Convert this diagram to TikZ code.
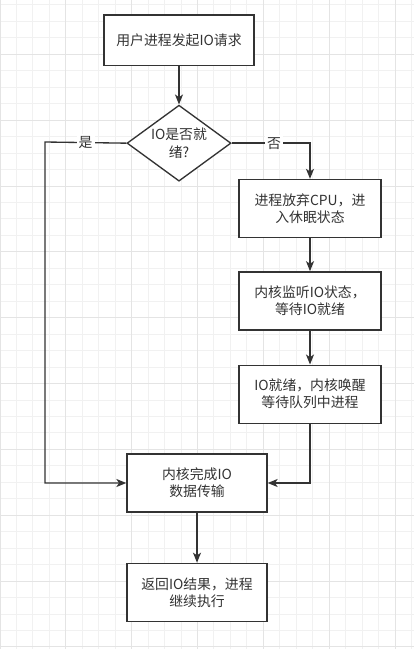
\documentclass[tikz,border=0pt]{standalone}
\usepackage{fontspec}
\newfontfamily\cjk{Noto Sans CJK SC}
\usepackage{tikz}
\usetikzlibrary{shapes.geometric,arrows.meta,positioning,calc}
\definecolor{linegray}{RGB}{51,51,51}
\definecolor{gridminor}{RGB}{241,241,241}
\definecolor{gridmajor}{RGB}{228,228,228}

\begin{document}
\begin{tikzpicture}[
    x=0.75pt, y=-0.75pt,
    font=\cjk\fontsize{10.4}{12.8}\selectfont,
    process/.style={rectangle, draw=linegray, fill=white, line width=1pt, minimum width=106.5pt, minimum height=43.5pt, align=center, inner sep=2pt, text=linegray},
    decision/.style={diamond, draw=linegray, fill=white, line width=1pt, minimum width=78pt, minimum height=57pt, aspect=1.37, align=center, inner sep=0pt, text=linegray},
    arrow/.style={-{Stealth[length=7.5pt,width=6pt,inset=2pt]}, line width=1pt, linegray},
    edgelabel/.style={fill=white, inner sep=1.5pt, text=linegray}
]
    % Background grid
    \useasboundingbox (0,0) rectangle (414,649);
    \fill[white] (0,0) rectangle (414,649);
    \foreach \k in {0,...,25}
        \draw[gridminor, line width=0.75pt] ({16.46*\k},0) -- ({16.46*\k},649);
    \foreach \k in {0,...,39}
        \draw[gridminor, line width=0.75pt] (0,{5+16.46*\k}) -- (414,{5+16.46*\k});
    \foreach \k in {0,4,...,24}
        \draw[gridmajor, line width=0.75pt] ({16.46*\k},0) -- ({16.46*\k},649);
    \foreach \k in {3,7,...,39}
        \draw[gridmajor, line width=0.75pt] (0,{5+16.46*\k}) -- (414,{5+16.46*\k});

    % Nodes
    \node[process, minimum width=112.5pt, minimum height=38pt] (request) at (179,40.5) {用户进程发起IO请求};
    \node[decision, below=28.5pt of request] (ready) {IO是否就\\绪?};
    \node[process] (sleep) at (310,208.5) {进程放弃CPU，进\\入休眠状态};
    \node[process, below=24.75pt of sleep] (monitor) {内核监听IO状态，\\等待IO就绪};
    \node[process, below=25.5pt of monitor] (wakeup) {IO就绪，内核唤醒\\等待队列中进程};
    \node[process, minimum width=105pt] (transfer) at (197,483) {内核完成IO\\数据传输};
    \node[process, minimum width=105pt, below=37.5pt of transfer] (result) {返回IO结果，进程\\继续执行};
    \coordinate (yesturn) at (45,142);

    % Arrows
    \draw[arrow] (request) -- (ready);
    \draw[arrow] (ready.west) -- node[edgelabel] {是} (yesturn) |- (transfer.west);
    \draw[arrow] (ready.east) -| node[edgelabel, pos=0.27] {否} (sleep.north);
    \draw[arrow] (sleep) -- (monitor);
    \draw[arrow] (monitor) -- (wakeup);
    \draw[arrow] (wakeup.south) |- (transfer.east);
    \draw[arrow] (transfer) -- (result);
\end{tikzpicture}
\end{document}
